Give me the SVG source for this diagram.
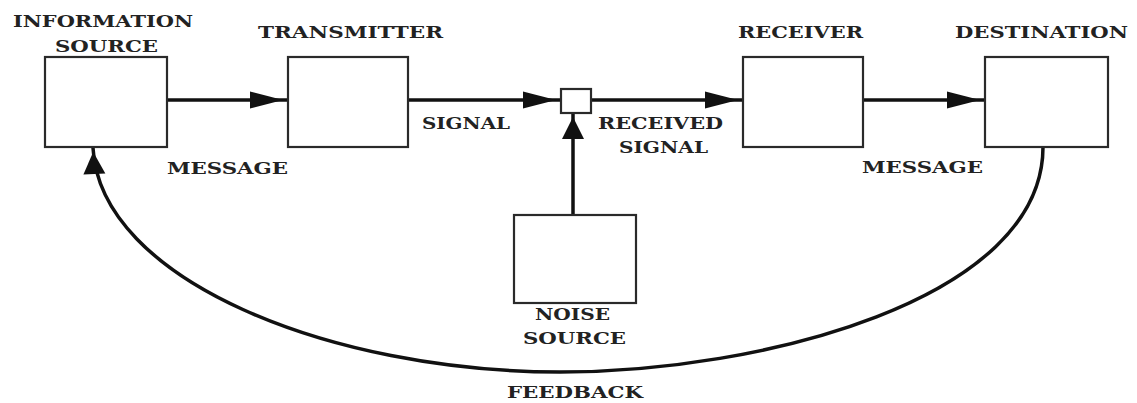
<svg xmlns="http://www.w3.org/2000/svg" width="1137" height="403" viewBox="0 0 1137 403">
  <style>
    .box { fill: #ffffff; stroke: #2a2a2a; stroke-width: 2.2; }
    .wire { fill: none; stroke: #111111; stroke-width: 3.5; }
    .lbl { font-family: "DejaVu Serif", "Liberation Serif", serif; font-weight: bold; font-size: 17px; fill: #222222; }
  </style>
  <defs>
    <!-- long dart head for the horizontal flow arrows; tip sits 5px short of the path end -->
    <marker id="headH" markerUnits="userSpaceOnUse" viewBox="0 0 38 18" refX="38" refY="9" markerWidth="38" markerHeight="18" orient="auto" overflow="visible">
      <path d="M0,0.5 L33,9 L0,17.5 Z" fill="#111111"/>
    </marker>
    <!-- shorter, wider head for the noise and feedback arrows -->
    <marker id="headV" markerUnits="userSpaceOnUse" viewBox="0 0 26 22" refX="26" refY="11" markerWidth="26" markerHeight="22" orient="auto" overflow="visible">
      <path d="M0,0 L22,11 L0,22 Z" fill="#111111"/>
    </marker>
  </defs>

  <rect width="1137" height="403" fill="#ffffff"/>

  <g id="connectors">
    <path class="wire" d="M167,100 H288" marker-end="url(#headH)"/>
    <path class="wire" d="M408,100 H561" marker-end="url(#headH)"/>
    <path class="wire" d="M591,100 H743" marker-end="url(#headH)"/>
    <path class="wire" d="M863,100 H985" marker-end="url(#headH)"/>
    <path class="wire" d="M573,215 V113" marker-end="url(#headV)"/>
    <path class="wire" d="M1043,147 C1043,300 760,372 560,372 C330,372 100,280 93,148" marker-end="url(#headV)"/>
  </g>

  <g id="information-source">
    <rect class="box" x="45" y="57" width="122" height="90"/>
    <text class="lbl" x="13" y="27" textLength="180" lengthAdjust="spacingAndGlyphs">INFORMATION</text>
    <text class="lbl" x="55" y="52" textLength="103" lengthAdjust="spacingAndGlyphs">SOURCE</text>
  </g>

  <g id="transmitter">
    <rect class="box" x="288" y="57" width="120" height="90"/>
    <text class="lbl" x="258" y="38" textLength="185" lengthAdjust="spacingAndGlyphs">TRANSMITTER</text>
  </g>

  <g id="channel">
    <rect class="box" x="561" y="89" width="30" height="24"/>
  </g>

  <g id="receiver">
    <rect class="box" x="743" y="57" width="120" height="90"/>
    <text class="lbl" x="738" y="38" textLength="125" lengthAdjust="spacingAndGlyphs">RECEIVER</text>
  </g>

  <g id="destination">
    <rect class="box" x="985" y="57" width="123" height="90"/>
    <text class="lbl" x="955" y="38" textLength="173" lengthAdjust="spacingAndGlyphs">DESTINATION</text>
  </g>

  <g id="noise-source">
    <rect class="box" x="514" y="215" width="122" height="88"/>
    <text class="lbl" x="535" y="320" textLength="75" lengthAdjust="spacingAndGlyphs">NOISE</text>
    <text class="lbl" x="523" y="344" textLength="103" lengthAdjust="spacingAndGlyphs">SOURCE</text>
  </g>

  <g id="labels">
    <text class="lbl" x="167" y="174" textLength="121" lengthAdjust="spacingAndGlyphs">MESSAGE</text>
    <text class="lbl" x="422" y="129" textLength="88" lengthAdjust="spacingAndGlyphs">SIGNAL</text>
    <text class="lbl" x="598" y="129" textLength="125" lengthAdjust="spacingAndGlyphs">RECEIVED</text>
    <text class="lbl" x="619" y="153" textLength="89" lengthAdjust="spacingAndGlyphs">SIGNAL</text>
    <text class="lbl" x="862" y="173" textLength="121" lengthAdjust="spacingAndGlyphs">MESSAGE</text>
    <text class="lbl" x="507" y="398" textLength="136" lengthAdjust="spacingAndGlyphs">FEEDBACK</text>
  </g>
</svg>
